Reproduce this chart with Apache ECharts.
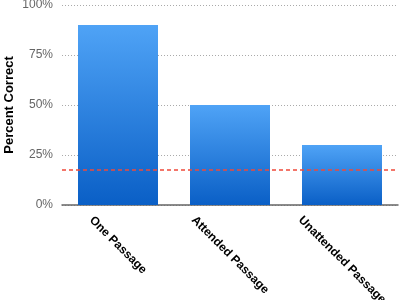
<!DOCTYPE html>
<html><head><meta charset="utf-8">
<script src="https://cdn.jsdelivr.net/npm/echarts@6/dist/echarts.min.js"></script>
<style>html,body{margin:0;padding:0;background:#fff}#c{width:400px;height:300px}</style>
</head><body><div id="c"></div>
<script>
const categories = ['One Passage', 'Attended Passage', 'Unattended Passage'];
const percentCorrect = [90, 50, 30];
const chanceLevel = 17.5;
const yTicks = [0, 25, 50, 75, 100];

const FAMILY = '"Liberation Sans", Arial, sans-serif';
const FONT = 'bold 12px ' + FAMILY;
const cv = document.createElement('canvas').getContext('2d');
cv.font = FONT;
const rich = {};
categories.forEach((c, i) => {
  const L = cv.measureText(c).width;
  const p = Math.round((L + 12) * 0.5);
  rich['p' + i] = {padding: [p, 0, 0, p], fontFamily: FAMILY, fontWeight: 'bold', fontSize: 12, color: '#000'};
});

const chart = echarts.init(document.getElementById('c'), null, {renderer: 'canvas'});
chart.setOption({
  animation: false,
  grid: {left: 62, right: 2, top: 5, bottom: 95, containLabel: false, outerBoundsMode: 'none'},
  xAxis: {
    type: 'category',
    data: categories,
    axisLine: {lineStyle: {color: '#666', width: 1.5}},
    axisTick: {show: false},
    axisLabel: {
      interval: 0, rotate: -45, margin: 9, align: 'center', verticalAlign: 'middle', hideOverlap: false,
      fontFamily: FAMILY, fontWeight: 'bold', fontSize: 12, color: '#000',
      formatter: (v, i) => '{p' + i + '|' + v + '}',
      rich: rich
    }
  },
  yAxis: {
    type: 'value', min: yTicks[0], max: yTicks[yTicks.length - 1], interval: 25,
    name: 'Percent Correct', nameLocation: 'middle', nameGap: 46, nameRotate: 90, nameMoveOverlap: false,
    nameTextStyle: {fontFamily: FAMILY, fontWeight: 'bold', fontSize: 13, color: '#000'},
    axisLine: {show: false}, axisTick: {show: false},
    axisLabel: {formatter: '{value}%', color: '#666', fontSize: 12, margin: 9, fontFamily: FAMILY},
    splitLine: {lineStyle: {color: '#aaa', type: [1, 2], width: 1}}
  },
  series: [{
    type: 'bar',
    data: percentCorrect,
    barWidth: 80,
    itemStyle: {
      color: new echarts.graphic.LinearGradient(0, 0, 0, 1, [
        {offset: 0, color: '#4fa3f6'},
        {offset: 1, color: '#0a5fc6'}
      ])
    },
    markLine: {
      silent: true, symbol: 'none', label: {show: false},
      lineStyle: {color: '#f04a3a', type: [4, 3], width: 1.5},
      data: [{yAxis: chanceLevel}]
    }
  }]
});
</script></body></html>
